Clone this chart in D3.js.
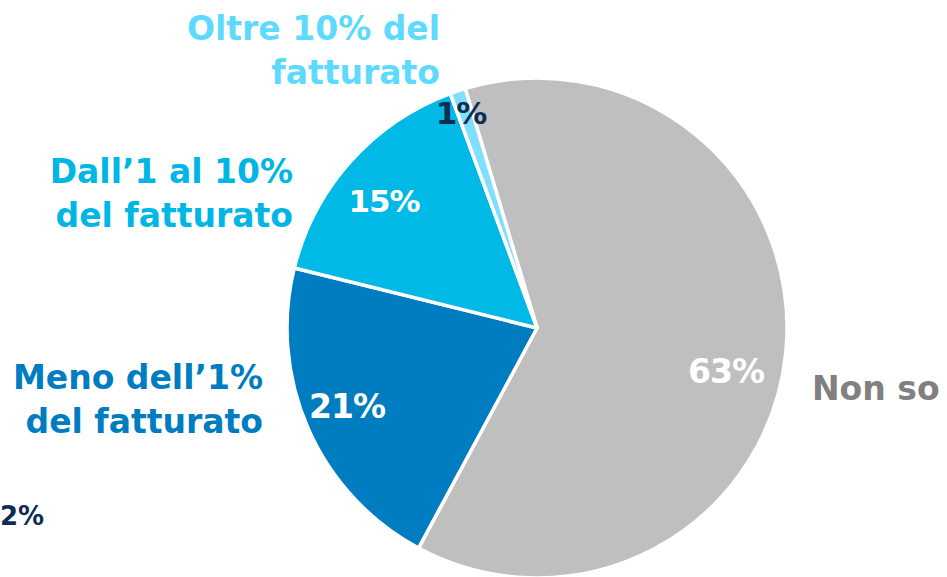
<!DOCTYPE html>
<html><head><meta charset="utf-8">
<script src="https://cdn.jsdelivr.net/npm/d3@7"></script>
<style>body{margin:0;background:#fff}svg{display:block}text{font-family:"DejaVu Sans",sans-serif;font-weight:bold}</style>
</head><body>
<svg id="c" width="947" height="577"></svg>
<script>
const categories = ["Non so", "Meno dell’1% del fatturato", "Dall’1 al 10% del fatturato", "Oltre 10% del fatturato"];
const values = [62.5, 21, 15.5, 1];
const pctLabels = ["63%", "21%", "15%", "1%"];
const colors = ["#BFBFBF", "#007CC1", "#00B9E6", "#7FDFFF"];
const extraLabel = "2%";

const svg = d3.select("#c");
const cx = 537, cy = 328, R = 250;
const pie = d3.pie().sort(null).value(d => d).startAngle(-16.7 * Math.PI / 180).endAngle((360 - 16.7) * Math.PI / 180);
const arcs = pie(values);
const arc = d3.arc().innerRadius(0).outerRadius(R);
const g = svg.append("g").attr("transform", `translate(${cx},${cy})`);
g.selectAll("path").data(arcs).join("path")
  .attr("d", arc).attr("fill", (d, i) => colors[i])
  .attr("stroke", "#fff").attr("stroke-width", 3.5).attr("stroke-linejoin", "round");

// percent labels
const pctPos = [[726, 383], [347, 418], [384, 212], [461, 124]];
const pctColor = ["#fff", "#fff", "#fff", "#0E2D52"];
const pctSize = [33, 33, 31, 31];
pctLabels.forEach((t, i) => {
  svg.append("text").attr("x", pctPos[i][0]).attr("y", pctPos[i][1])
    .attr("text-anchor", "middle").attr("font-size", pctSize[i]).attr("fill", pctColor[i])
    .attr("letter-spacing", -1).text(t);
});

// category labels
const catLines = [["Non so"], ["Meno dell’1%", "del fatturato"], ["Dall’1 al 10%", "del fatturato"], ["Oltre 10% del", "fatturato"]];
const catPos = [[812, 400, "start"], [263, 389, "end"], [293, 183, "end"], [440, 40, "end"]];
const catColor = ["#808080", "#007CC1", "#00B6E4", "#5FDAFF"];
catLines.forEach((lines, i) => {
  const t = svg.append("text").attr("x", catPos[i][0]).attr("y", catPos[i][1])
    .attr("text-anchor", catPos[i][2]).attr("font-size", 33).attr("fill", catColor[i]);
  lines.forEach((l, j) => t.append("tspan").attr("x", catPos[i][0]).attr("dy", j ? 44 : 0).text(l));
});

svg.append("text").attr("x", 0).attr("y", 525).attr("font-size", 26).attr("fill", "#0E2D52").text(extraLabel);
</script>
</body></html>
